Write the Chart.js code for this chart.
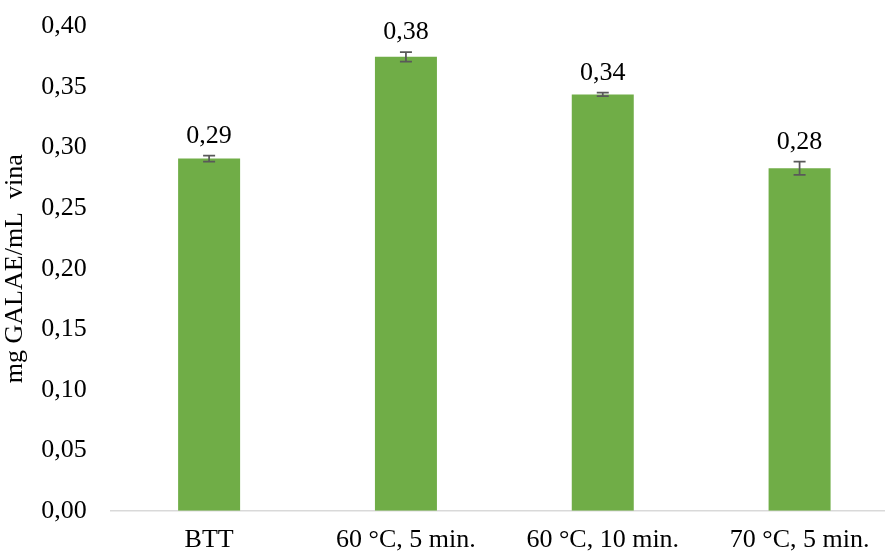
<!DOCTYPE html>
<html>
<head>
<meta charset="utf-8">
<script src="https://cdn.jsdelivr.net/npm/chart.js@4"></script>
<style>
  html, body { margin: 0; padding: 0; background: #fff; }
  #frame { width: 885px; height: 552px; position: relative; overflow: hidden; }
  #wrap { position: absolute; left: 0; top: -13px; width: 898px; height: 583px; }
</style>
</head>
<body>
<div id="frame"><div id="wrap"><canvas id="chart"></canvas></div></div>
<script>
// Data
var categories = ['BTT', '60 °C, 5 min.', '60 °C, 10 min.', '70 °C, 5 min.'];
var values = [0.291, 0.375, 0.344, 0.283];
var errors = [0.0025, 0.004, 0.0015, 0.0055];

var fontFamily = '"Liberation Serif", "Times New Roman", serif';

function fmt(v) {
    return v.toFixed(2).replace('.', ',');
}

// Error bars and value labels
var errorBarPlugin = {
    id: 'errorBars',
    afterDatasetsDraw: function(chart) {
        var ctx = chart.ctx;
        var yScale = chart.scales.y;
        var meta = chart.getDatasetMeta(0);
        ctx.save();
        meta.data.forEach(function(bar, i) {
            var x = bar.x;
            var top = yScale.getPixelForValue(values[i] + errors[i]);
            var bottom = yScale.getPixelForValue(values[i] - errors[i]);
            ctx.strokeStyle = '#595959';
            ctx.lineWidth = 1.75;
            ctx.beginPath();
            ctx.moveTo(x, top); ctx.lineTo(x, bottom);
            ctx.moveTo(x - 6, top); ctx.lineTo(x + 6, top);
            ctx.moveTo(x - 6, bottom); ctx.lineTo(x + 6, bottom);
            ctx.stroke();

            ctx.fillStyle = '#000';
            ctx.font = '26px ' + fontFamily;
            ctx.textAlign = 'center';
            ctx.textBaseline = 'alphabetic';
            ctx.fillText(fmt(values[i]), x, top - 13);
        });
        ctx.restore();
    }
};

new Chart(document.getElementById('chart').getContext('2d'), {
    type: 'bar',
    data: {
        labels: categories,
        datasets: [{
            data: values,
            backgroundColor: '#70AD47',
            categoryPercentage: 1.0,
            barPercentage: 0.315
        }]
    },
    options: {
        responsive: true,
        maintainAspectRatio: false,
        animation: false,
        layout: { padding: 0 },
        plugins: {
            legend: { display: false },
            tooltip: { enabled: false }
        },
        scales: {
            x: {
                grid: { display: false, drawTicks: false },
                border: { display: true, color: '#D9D9D9', width: 1.5 },
                ticks: {
                    color: '#000',
                    font: { family: fontFamily, size: 26 },
                    padding: 14
                }
            },
            y: {
                min: 0,
                max: 0.40,
                grid: { display: false, drawTicks: false },
                border: { display: false },
                ticks: {
                    stepSize: 0.05,
                    color: '#000',
                    font: { family: fontFamily, size: 26 },
                    padding: 24,
                    callback: function(v) { return fmt(v); }
                },
                title: {
                    display: true,
                    text: 'mg GALAE/mL  vina',
                    color: '#000',
                    font: { family: fontFamily, size: 26 },
                    padding: { top: 0, bottom: -14 }
                }
            }
        }
    },
    plugins: [errorBarPlugin]
});
</script>
</body>
</html>
